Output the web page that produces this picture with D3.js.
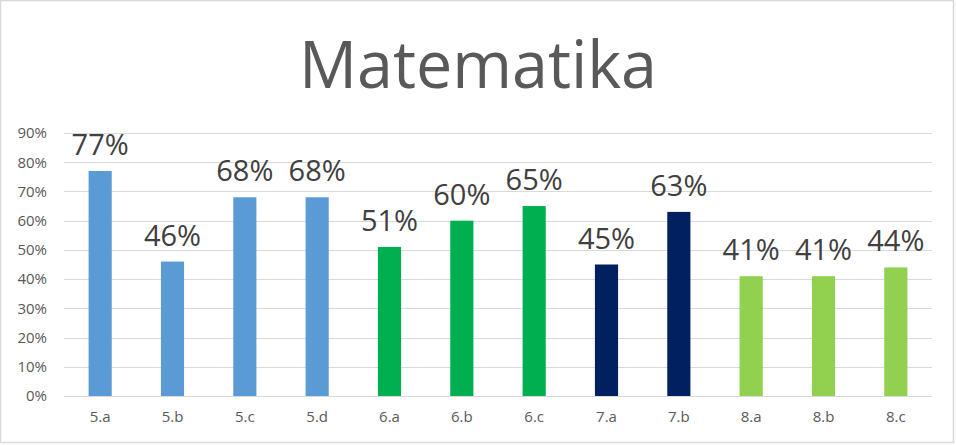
<!DOCTYPE html>
<html><head><meta charset="utf-8">
<script src="https://cdn.jsdelivr.net/npm/d3@7"></script>
<style>html,body{margin:0;padding:0;background:#fff;}svg{display:block;}</style>
</head><body>
<svg id="c" width="956" height="445"></svg>
<script>
const categories = ["5.a","5.b","5.c","5.d","6.a","6.b","6.c","7.a","7.b","8.a","8.b","8.c"];
const values = [0.77,0.46,0.68,0.68,0.51,0.60,0.65,0.45,0.63,0.41,0.41,0.44];
const grades = ["5","5","5","5","6","6","6","7","7","8","8","8"];
const gradeColors = {"5":"#5B9BD5","6":"#00B050","7":"#002060","8":"#92D050"};
const yTicks = [0,0.1,0.2,0.3,0.4,0.5,0.6,0.7,0.8,0.9];
const title = "Matematika";

const svg = d3.select("#c");
const W = 956, H = 445;
const m = {left:64, right:24, top:133, bottom:49};
const x = d3.scaleBand().domain(categories).range([m.left, W - m.right]).paddingInner(0.68).paddingOuter(0.34);
const y = d3.scaleLinear().domain([0,0.9]).range([H - m.bottom, m.top]);

svg.append("rect").attr("x",0.5).attr("y",0.5).attr("width",W-3).attr("height",H-3)
  .attr("fill","#fff").attr("stroke","#d9d9d9").attr("stroke-width",1.5);

const font = "'Open Sans', 'Liberation Sans', sans-serif";

// gridlines
svg.append("g").selectAll("line").data(yTicks).join("line")
  .attr("x1", m.left).attr("x2", W - m.right)
  .attr("y1", d => Math.round(y(d)) + 0.5).attr("y2", d => Math.round(y(d)) + 0.5)
  .attr("stroke", "#d9d9d9").attr("stroke-width", 1);

// y axis labels
const yAxis = d3.axisLeft(y).tickValues(yTicks).tickFormat(d3.format(".0%")).tickSize(0).tickPadding(17);
const yg = svg.append("g").attr("transform", `translate(${m.left},0)`).call(yAxis);
yg.select(".domain").remove();
yg.selectAll("text").attr("font-family", font).attr("font-size", 15).attr("fill", "#595959");

// x axis labels
const xAxis = d3.axisBottom(x).tickSize(0).tickPadding(15);
const xg = svg.append("g").attr("transform", `translate(0,${H - m.bottom})`).call(xAxis);
xg.select(".domain").remove();
xg.selectAll("text").attr("font-family", font).attr("font-size", 15).attr("fill", "#595959");

// bars
svg.append("g").selectAll("rect").data(categories).join("rect")
  .attr("x", d => x(d)).attr("width", x.bandwidth())
  .attr("y", (d,i) => y(values[i])).attr("height", (d,i) => y(0) - y(values[i]))
  .attr("fill", (d,i) => gradeColors[grades[i]]);

// labels
svg.append("g").selectAll("text").data(categories).join("text")
  .attr("x", d => x(d) + x.bandwidth()/2)
  .attr("y", (d,i) => y(values[i]) - 16)
  .attr("text-anchor","middle")
  .attr("font-family", font).attr("font-size", 29).attr("fill","#404040")
  .text((d,i) => d3.format(".0%")(values[i]));

// title
svg.append("text").attr("x", 478).attr("y", 88).attr("text-anchor","middle")
  .attr("font-family", font).attr("font-size", 66).attr("fill","#595959")
  .attr("textLength", 358).attr("lengthAdjust","spacingAndGlyphs")
  .text(title);
</script>
</body></html>
